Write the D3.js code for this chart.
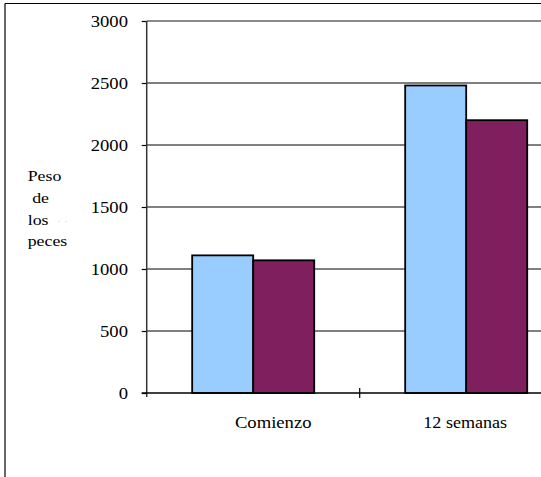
<!DOCTYPE html>
<html><head><meta charset="utf-8">
<script src="https://cdn.jsdelivr.net/npm/d3@7"></script>
<style>
html,body{margin:0;padding:0;background:#fff;}
svg{display:block;}
</style></head>
<body>
<svg id="chart" width="541" height="477"></svg>
<script>
const categories = ["Comienzo", "12 semanas"];
const seriesNames = ["Serie 1", "Serie 2"];
const serie1 = [1110, 2480];
const serie2 = [1070, 2200];
const yTicks = [0, 500, 1000, 1500, 2000, 2500, 3000];
const yTitleLines = ["Peso", " de", "los", "peces"];
const colors = ["#99CCFF", "#801F5E"];

(function () {
const FONT = "Liberation Serif";
const svg = d3.select("#chart");
const W = 541, H = 477;
const mLeft = 146.7, mTop = 21, mBottom = 393;
const rightEnd = mLeft + 426;

// outer frame (left & top edges visible)
svg.append("line").attr("x1",5).attr("x2",5).attr("y1",3.5).attr("y2",H).attr("stroke","#000").attr("stroke-width",1.2);
svg.append("line").attr("x1",5).attr("x2",W).attr("y1",3.5).attr("y2",3.5).attr("stroke","#000").attr("stroke-width",1.2);

const y = d3.scaleLinear().domain([0, 3000]).range([mBottom, mTop]);
const x = d3.scaleBand().domain(categories).range([mLeft, rightEnd]).paddingInner(0.427).paddingOuter(0.2135);
const x1 = d3.scaleBand().domain(seriesNames).range([0, x.bandwidth()]);

// gridlines
svg.append("g").selectAll("line").data(yTicks.filter(d => d > 0)).join("line")
  .attr("x1", mLeft).attr("x2", W)
  .attr("y1", d => y(d)).attr("y2", d => y(d))
  .attr("stroke", d => d === 3000 ? "#8a8a8a" : "#000")
  .attr("stroke-width", d => d === 3000 ? 2 : 1);

// bars
const data = categories.map((c, i) => ({cat: c, vals: [serie1[i], serie2[i]]}));
const groups = svg.append("g").selectAll("g").data(data).join("g")
  .attr("transform", d => `translate(${x(d.cat)},0)`);
groups.selectAll("rect").data(d => d.vals.map((v, j) => ({v, s: seriesNames[j], j}))).join("rect")
  .attr("x", d => x1(d.s)).attr("width", x1.bandwidth())
  .attr("y", d => y(d.v)).attr("height", d => y(0) - y(d.v))
  .attr("fill", d => colors[d.j])
  .attr("stroke", "#000").attr("stroke-width", 1.8);

// y axis
const yAxis = svg.append("g").attr("transform", `translate(${mLeft},0)`)
  .call(d3.axisLeft(y).tickValues(yTicks).tickSize(5).tickPadding(0).tickFormat(d3.format("d")));
yAxis.attr("font-family", FONT).attr("font-size", 16.5);
yAxis.select(".domain").remove();
yAxis.selectAll(".tick line").attr("stroke", "#000").attr("stroke-width", 1.2);
yAxis.selectAll(".tick text")
  .attr("x", 0).attr("dy", "0.35em")
  .attr("transform", "translate(-18.7,0) scale(1.13,1)")
  .attr("text-anchor", "end")
  .attr("fill", "#000")
  .attr("font-family", FONT)
  .attr("font-size", 16.5);
svg.append("line").attr("x1", mLeft).attr("x2", mLeft).attr("y1", mTop).attr("y2", mBottom + 4)
  .attr("stroke", "#333").attr("stroke-width", 1.5);

// x axis line
svg.append("line").attr("x1", mLeft - 5).attr("x2", W).attr("y1", mBottom).attr("y2", mBottom)
  .attr("stroke", "#000").attr("stroke-width", 1.5);
// category boundary ticks
svg.append("g").selectAll("line").data(categories.slice(1)).join("line")
  .attr("x1", d => x(d) - x.step() * 0.427 / 2).attr("x2", d => x(d) - x.step() * 0.427 / 2)
  .attr("y1", mBottom - 5).attr("y2", mBottom + 5)
  .attr("stroke", "#000").attr("stroke-width", 1.2);

// category labels
svg.append("g").selectAll("text").data(categories).join("text")
  .attr("transform", (d, i) => `translate(${x(d) + x.bandwidth() / 2 + (i === 0 ? 20 : -1)},428) scale(1.13,1)`)
  .attr("text-anchor", "middle")
  .attr("font-family", FONT)
  .attr("font-size", (d, i) => i === 0 ? 16.5 : 16)
  .attr("fill", "#000")
  .text(d => d);

// y title
svg.append("g").selectAll("text").data(yTitleLines).join("text")
  .attr("transform", (d, i) => `translate(27.7,${181 + i * 21.8}) scale(1.15,1)`)
  .attr("font-family", FONT)
  .attr("font-size", 15.5)
  .attr("fill", "#000")
  .style("white-space", "pre")
  .text(d => d);
// faint dots after "los"
svg.append("text").attr("x", 58).attr("y", 222)
  .attr("font-family", FONT).attr("font-size", 9).attr("fill", "#bbb")
  .style("white-space", "pre")
  .text(".  .");
})();
</script>
</body></html>
